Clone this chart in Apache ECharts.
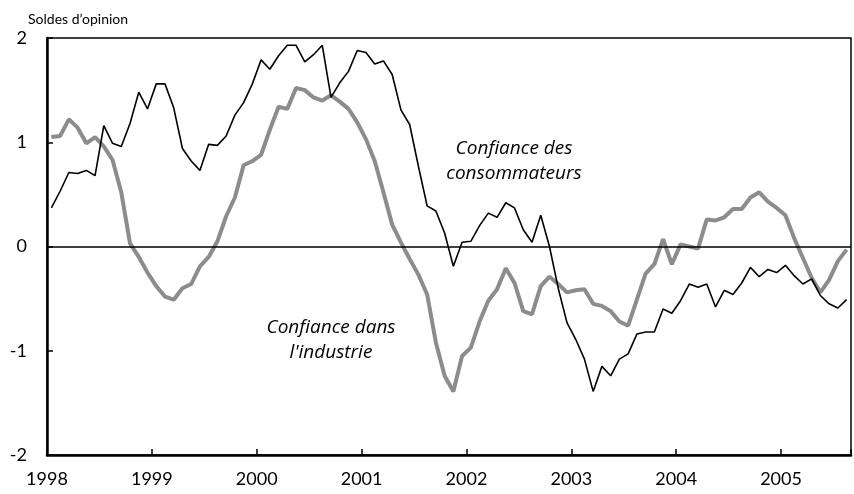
<!DOCTYPE html>
<html>
<head>
<meta charset="utf-8">
<script src="https://cdn.jsdelivr.net/npm/echarts@6/dist/echarts.min.js"></script>
<style>
  html, body { margin: 0; padding: 0; background: #fff; }
  #main { width: 854px; height: 494px; }
</style>
</head>
<body>
<div id="main"></div>
<script>
// soldes d'opinion mensuels, janvier 1998 -> août 2005
var startYear = 1998;
var yearTicks = [1998, 1999, 2000, 2001, 2002, 2003, 2004, 2005];
var consommateurs = [
  0.37, 0.53, 0.71, 0.70, 0.73, 0.68, 1.16, 0.99, 0.96, 1.18,
  1.48, 1.32, 1.56, 1.56, 1.33, 0.94, 0.82, 0.73, 0.98, 0.97,
  1.06, 1.26, 1.38, 1.56, 1.79, 1.70, 1.83, 1.93, 1.93, 1.77,
  1.84, 1.93, 1.43, 1.57, 1.68, 1.88, 1.86, 1.75, 1.78, 1.65,
  1.31, 1.17, 0.77, 0.39, 0.34, 0.13, -0.19, 0.04, 0.05, 0.20,
  0.32, 0.28, 0.42, 0.37, 0.16, 0.04, 0.30, 0.00, -0.40, -0.73,
  -0.89, -1.08, -1.39, -1.15, -1.24, -1.08, -1.03, -0.84, -0.82, -0.82,
  -0.60, -0.64, -0.52, -0.36, -0.39, -0.36, -0.58, -0.42, -0.46, -0.35,
  -0.20, -0.29, -0.22, -0.25, -0.18, -0.28, -0.36, -0.31, -0.47, -0.55,
  -0.59, -0.51
];
var industrie = [
  1.05, 1.06, 1.22, 1.14, 0.99, 1.05, 0.96, 0.83, 0.52, 0.03,
  -0.10, -0.25, -0.38, -0.48, -0.51, -0.40, -0.36, -0.19, -0.10, 0.05,
  0.29, 0.47, 0.78, 0.82, 0.88, 1.12, 1.34, 1.32, 1.52, 1.50,
  1.43, 1.40, 1.45, 1.39, 1.32, 1.19, 1.03, 0.82, 0.52, 0.21,
  0.04, -0.12, -0.27, -0.46, -0.92, -1.24, -1.39, -1.05, -0.97, -0.72,
  -0.52, -0.41, -0.21, -0.35, -0.62, -0.65, -0.38, -0.29, -0.36, -0.44,
  -0.42, -0.41, -0.55, -0.57, -0.62, -0.72, -0.76, -0.51, -0.26, -0.17,
  0.07, -0.17, 0.02, 0.00, -0.02, 0.26, 0.25, 0.28, 0.36, 0.36,
  0.47, 0.52, 0.43, 0.37, 0.30, 0.08, -0.11, -0.30, -0.44, -0.32,
  -0.14, -0.03
];

// point au milieu de chaque mois
function toPairs(arr) {
  return arr.map(function (v, i) { return [startYear + (i + 0.5) / 12, v]; });
}

var font = 'Lato, "Open Sans", sans-serif';
var noteFont = 'italic 19px "Open Sans", sans-serif';
var myChart = echarts.init(document.getElementById('main'));
var option = {
  animation: false,
  backgroundColor: '#fff',
  textStyle: { fontFamily: font, color: '#000' },
  grid: {
    left: 47, top: 38, right: 0, bottom: 39,
    show: true, borderColor: '#000', borderWidth: 1.5
  },
  xAxis: {
    type: 'value',
    min: startYear,
    max: 2005.667,
    interval: 1,
    splitLine: { show: false },
    axisLine: { onZero: false, lineStyle: { color: '#000', width: 2.5 } },
    axisTick: { inside: true, length: 6, lineStyle: { color: '#000', width: 1.5 } },
    axisLabel: {
      margin: 15, fontSize: 18, color: '#000', fontFamily: font,
      formatter: function (v) { return yearTicks.indexOf(v) >= 0 ? String(v) : ''; }
    }
  },
  yAxis: {
    type: 'value',
    min: -2, max: 2, interval: 1,
    splitLine: { show: false },
    axisLine: { lineStyle: { color: '#000', width: 2.5 } },
    axisTick: { inside: true, length: 6, lineStyle: { color: '#000', width: 1.5 } },
    axisLabel: { margin: 20, fontSize: 18, color: '#000', fontFamily: font }
  },
  graphic: [
    { type: 'text', left: 28, top: 12,
      style: { text: 'Soldes d\u2019opinion', font: '14px ' + font, fill: '#000' } },
    { type: 'text', x: 514, y: 161,
      style: { text: 'Confiance des\nconsommateurs', font: noteFont,
               fill: '#000', align: 'center', verticalAlign: 'middle', lineHeight: 25 } },
    { type: 'text', x: 331, y: 340,
      style: { text: 'Confiance dans\nl\'industrie', font: noteFont,
               fill: '#000', align: 'center', verticalAlign: 'middle', lineHeight: 25 } }
  ],
  series: [
    {
      name: 'Confiance dans l\'industrie',
      type: 'line',
      data: toPairs(industrie),
      showSymbol: false,
      lineStyle: { color: '#8c8c8c', width: 4 },
      z: 2
    },
    {
      name: 'Confiance des consommateurs',
      type: 'line',
      data: toPairs(consommateurs),
      showSymbol: false,
      lineStyle: { color: '#000', width: 1.6 },
      z: 3,
      markLine: {
        silent: true, symbol: 'none', label: { show: false },
        lineStyle: { color: '#000', width: 1.5, type: 'solid' },
        data: [{ yAxis: 0 }]
      }
    }
  ]
};
myChart.setOption(option);
</script>
</body>
</html>
